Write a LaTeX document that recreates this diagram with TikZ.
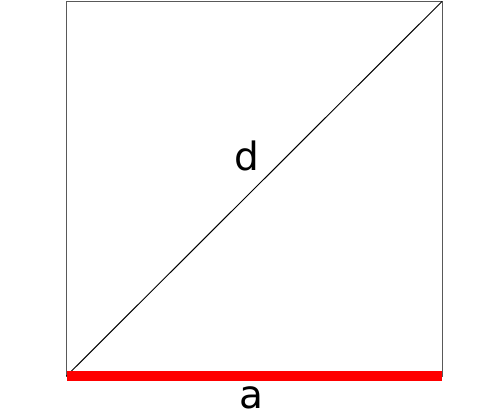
\documentclass[tikz,border=0pt]{standalone}
\usepackage{fontspec}
\setmainfont{DejaVu Sans}

\tikzset{
  edge/.style={draw=black!65,line width=0.5pt},
  diag/.style={draw=black,line width=0.5pt},
  base/.style={draw=red,line width=5pt},
  lbl/.style={font=\fontsize{19.5}{23}\selectfont,inner sep=0pt,anchor=base}
}

\begin{document}
\begin{tikzpicture}[x=0.5pt,y=0.5pt]
    \useasboundingbox (0,0) rectangle (490,409);
    % corners of the square
    \coordinate (bl) at (66.5,33);
    \coordinate (br) at (442,33);
    \coordinate (tr) at (442,407.5);
    \coordinate (tl) at (66.5,407.5);
    \draw[edge] (bl) -- (br) -- (tr) -- (tl) -- cycle;
    \draw[diag] (bl) -- (tr);
    \draw[base] (bl) -- (br);
    \node[lbl] (d) at (246.5,239) {d};
    \node[lbl] (a) at (251.7,0.5) {a};
\end{tikzpicture}
\end{document}
